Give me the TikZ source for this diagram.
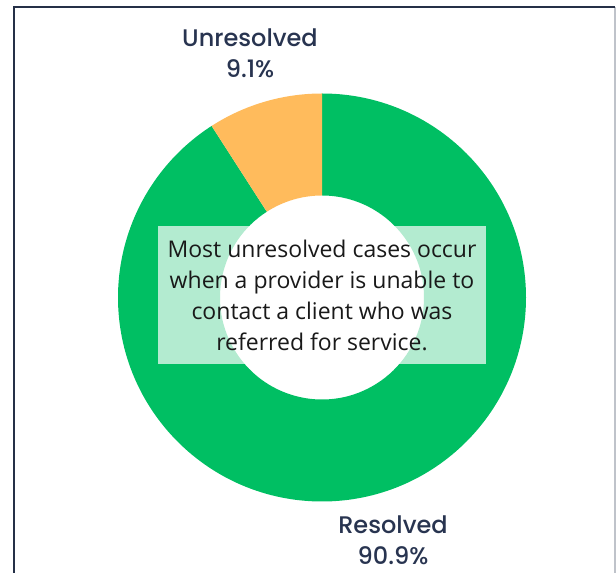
\documentclass[tikz,border=0pt]{standalone}
\usepackage{fontspec}
\setmainfont{Open Sans}
\newfontfamily\lblfont{Poppins Medium}
\usetikzlibrary{calc}

\definecolor{resgreen}{HTML}{00BF63}
\definecolor{unresorange}{HTML}{FFBB5C}
\definecolor{labelnavy}{HTML}{283450}
\definecolor{framenavy}{HTML}{253047}
\definecolor{framegray}{HTML}{BFC3CA}

\begin{document}
\begin{tikzpicture}[x=1pt,y=1pt,
	slicelabel/.style={align=center,text=labelnavy,font=\lblfont\fontsize{24}{31}\selectfont,inner sep=0pt},
	notebox/.style={fill=white,fill opacity=0.7,text opacity=1,text=black!90,align=center,
		minimum width=328pt,minimum height=138pt,inner sep=0pt,
		font=\fontsize{23}{31}\selectfont}]
				\useasboundingbox (0,0) rectangle (616,573);
				% frame
				\draw[framegray,line width=1.5pt] (615,566) -- (615,0);
				\draw[framenavy,line width=2pt] (13.5,0) -- (13.5,566) -- (615,566);
				% donut
				\coordinate (c) at (322,275.5);
				\fill[resgreen] ($(c)+(90:204)$) arc[start angle=90,end angle=-237.24,radius=204]
					-- ($(c)+(122.76:102)$) arc[start angle=122.76,end angle=450,radius=102] -- cycle;
				\fill[unresorange] ($(c)+(90:204)$) arc[start angle=90,end angle=122.76,radius=204]
					-- ($(c)+(122.76:102)$) arc[start angle=122.76,end angle=90,radius=102] -- cycle;
				% labels
				\node[slicelabel] (unres) at (250,519.5) {Unresolved\\9.1\%};
				\node[slicelabel] (res) at (393,33) {Resolved\\90.9\%};
				\node[notebox] (note) at (322,278) {Most unresolved cases occur\\when a provider is unable to\\contact a client who was\\referred for service.};
\end{tikzpicture}
\end{document}
